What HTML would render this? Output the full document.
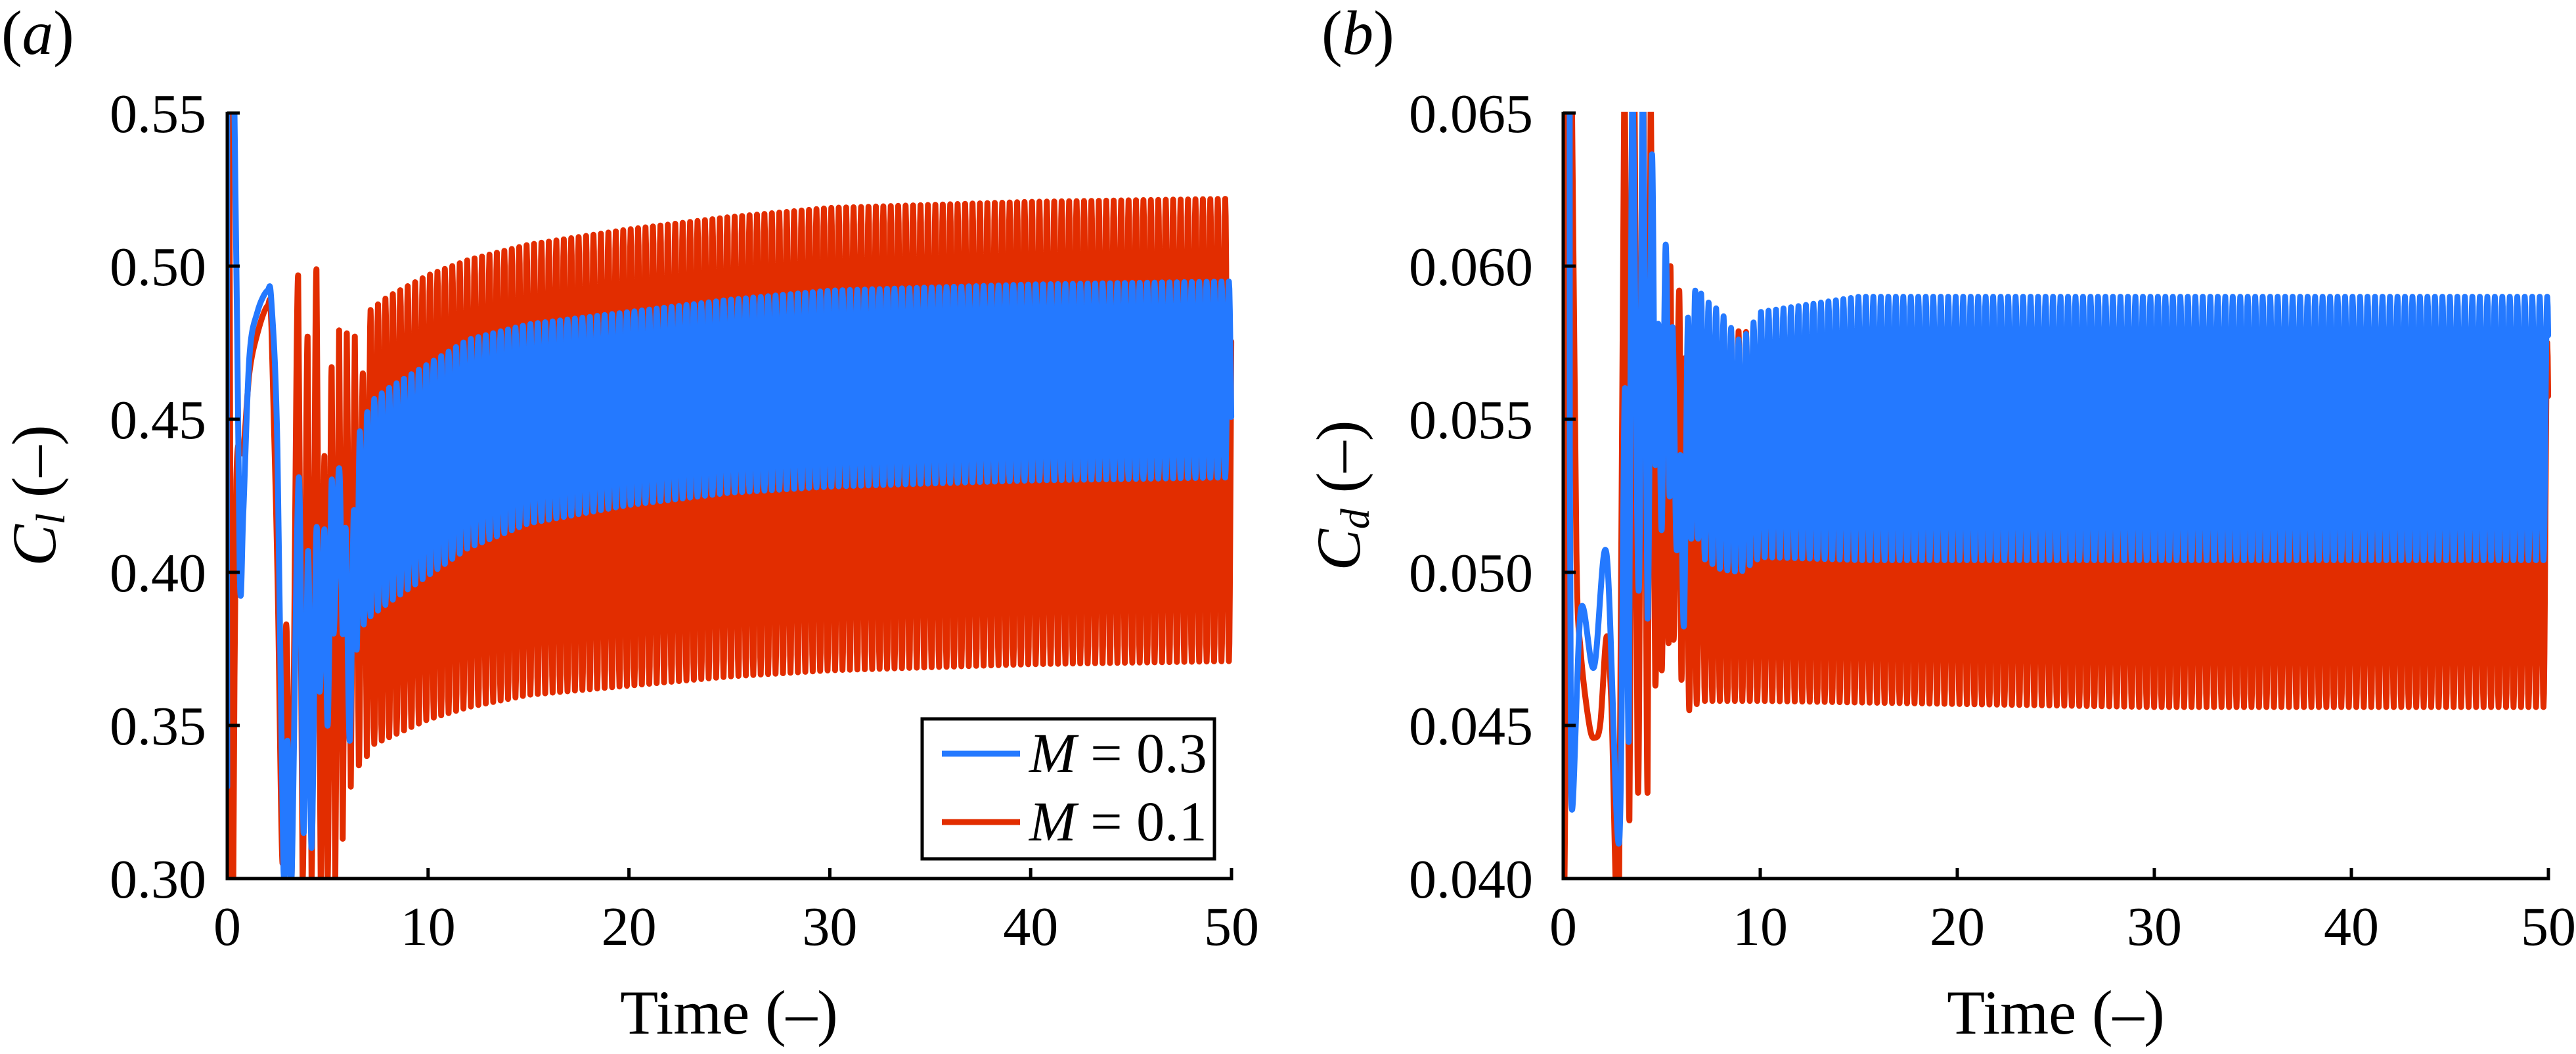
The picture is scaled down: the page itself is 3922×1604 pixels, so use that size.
<!DOCTYPE html>
<html><head><meta charset="utf-8">
<style>
html,body{margin:0;padding:0;background:#fff;}
svg{display:block;font-family:"Liberation Serif","Times New Roman",serif;}
svg text{font-family:"Liberation Serif","Times New Roman",serif;}
</style></head>
<body>
<svg id="fig" width="3922" height="1604" viewBox="0 0 3922 1604" xmlns="http://www.w3.org/2000/svg">
<defs>
<clipPath id="clipA"><rect x="346" y="170" width="1540" height="1169"/></clipPath>
<clipPath id="clipB"><rect x="2380" y="170" width="1510" height="1169"/></clipPath>
</defs>
<g id="panelA">
<text x="2" y="82" font-size="95">(<tspan font-style="italic">a</tspan>)</text>
<g id="seriesA" clip-path="url(#clipA)"></g>
<g id="axesA"></g>
<text x="1110" y="1573" font-size="95" text-anchor="middle">Time (–)</text>
<text transform="translate(84,754) rotate(-90)" font-size="95" text-anchor="middle"><tspan font-style="italic">C</tspan><tspan font-style="italic" font-size="62" dy="14">l</tspan><tspan dy="-14"> (–)</tspan></text>
<g>
<rect x="1404" y="1094" width="445" height="213" fill="#fff" stroke="#000" stroke-width="5"/>
<line x1="1434" y1="1147" x2="1553" y2="1147" stroke="#2479ff" stroke-width="9"/>
<text x="1567" y="1175" font-size="86"><tspan font-style="italic">M</tspan> = 0.3</text>
<line x1="1434" y1="1251" x2="1553" y2="1251" stroke="#e22d00" stroke-width="9"/>
<text x="1567" y="1279" font-size="86"><tspan font-style="italic">M</tspan> = 0.1</text>
</g>
</g>
<g id="panelB">
<text x="2012" y="82" font-size="95">(<tspan font-style="italic">b</tspan>)</text>
<g id="seriesB" clip-path="url(#clipB)"></g>
<g id="axesB"></g>
<text x="3130" y="1573" font-size="95" text-anchor="middle">Time (–)</text>
<text transform="translate(2070,754) rotate(-90)" font-size="95" text-anchor="middle"><tspan font-style="italic">C</tspan><tspan font-style="italic" font-size="62" dy="14">d</tspan><tspan dy="-14"> (–)</tspan></text>
</g>
</svg>
<script>
// ---- x ticks ----
const xTicks = [0, 10, 20, 30, 40, 50];
const xTickLabels = ["0", "10", "20", "30", "40", "50"];
// ---- panel (a) Cl ----
const clTicks = [0.30, 0.35, 0.40, 0.45, 0.50, 0.55];
const clTickLabels = ["0.30", "0.35", "0.40", "0.45", "0.50", "0.55"];
const clBlueTransT = [0, 0, 0.36, 0.62, 0.8, 1.1, 1.5, 2.0, 2.2, 2.5, 2.8, 3.0, 3.2, 3.56, 3.8, 4.03, 4.2, 4.44, 4.6, 4.84, 5.0, 5.2, 5.3, 5.57, 5.75, 5.9, 6.1, 6.3, 6.45, 6.6, 6.8, 6.95];
const clBlueTransV = [0.33, 0.55, 0.55, 0.40, 0.42, 0.47, 0.485, 0.492, 0.488, 0.44, 0.303, 0.345, 0.30, 0.431, 0.315, 0.407, 0.31, 0.414, 0.361, 0.414, 0.35, 0.43, 0.38, 0.434, 0.38, 0.414, 0.345, 0.42, 0.375, 0.446, 0.383, 0.451];
const clBlueEnvT = [7, 8, 10, 12, 15, 20, 25, 30, 40, 50];
const clBlueHi = [0.455, 0.46, 0.468, 0.476, 0.481, 0.485, 0.489, 0.492, 0.494, 0.495];
const clBlueLo = [0.385, 0.390, 0.399, 0.408, 0.416, 0.422, 0.426, 0.428, 0.430, 0.431];
const clRedTransT = [0, 0, 0.1, 0.2, 0.3, 0.45, 0.8, 1.1, 1.5, 2.0, 2.2, 2.5, 2.75, 2.94, 3.2, 3.53, 3.75, 4.0, 4.2, 4.44, 4.65, 4.84, 5.0, 5.2, 5.38, 5.57, 5.75, 5.95, 6.15, 6.35, 6.55, 6.75, 6.95];
const clRedTransV = [0.30, 0.55, 0.55, 0.30, 0.30, 0.43, 0.44, 0.465, 0.478, 0.487, 0.48, 0.40, 0.305, 0.383, 0.30, 0.497, 0.30, 0.477, 0.30, 0.499, 0.30, 0.438, 0.30, 0.467, 0.30, 0.479, 0.313, 0.478, 0.33, 0.477, 0.337, 0.465, 0.34];
const clRedEnvT = [7, 8, 10, 12, 15, 20, 25, 30, 40, 50];
const clRedHi = [0.485, 0.49, 0.497, 0.502, 0.507, 0.512, 0.516, 0.519, 0.521, 0.522];
const clRedLo = [0.343, 0.346, 0.352, 0.356, 0.360, 0.363, 0.366, 0.368, 0.370, 0.371];
const clPeriod = 0.37;
// ---- panel (b) Cd ----
const cdTicks = [0.040, 0.045, 0.050, 0.055, 0.060, 0.065];
const cdTickLabels = ["0.040", "0.045", "0.050", "0.055", "0.060", "0.065"];
const cdBlueTransT = [0.3, 0.33, 0.4, 0.9, 1.56, 2.2, 2.84, 3.13, 3.33, 3.5, 3.83, 4.05, 4.28, 4.5, 4.67, 4.83, 5.0, 5.2, 5.4, 5.55, 5.75, 5.95, 6.13, 6.33, 6.5, 6.7, 6.85, 7.0];
const cdBlueTransV = [0.066, 0.065, 0.0428, 0.0488, 0.0469, 0.0506, 0.0412, 0.056, 0.0446, 0.066, 0.0494, 0.066, 0.0485, 0.0636, 0.0536, 0.0581, 0.0514, 0.0607, 0.0525, 0.058, 0.0508, 0.0538, 0.0483, 0.0583, 0.0511, 0.0592, 0.0511, 0.0591];
const cdBlueEnvT = [7, 8, 9, 10, 15, 20, 30, 40, 50];
const cdBlueHi = [0.059, 0.0585, 0.0575, 0.0585, 0.059, 0.059, 0.059, 0.059, 0.059];
const cdBlueLo = [0.0505, 0.0501, 0.0500, 0.0505, 0.0504, 0.0504, 0.0504, 0.0504, 0.0504];
const cdRedTransT = [0, 0.03, 0.1, 0.3, 0.45, 0.67, 0.89, 1.33, 1.61, 1.89, 2.2, 2.44, 2.83, 3.1, 3.36, 3.6, 3.8, 4.05, 4.28, 4.44, 4.67, 4.85, 5.0, 5.2, 5.35, 5.44, 5.6, 5.89, 6.0, 6.2, 6.4, 6.6, 6.78, 7.0];
const cdRedTransV = [0.065, 0.0426, 0.0426, 0.066, 0.065, 0.0507, 0.0474, 0.045, 0.0446, 0.0451, 0.0479, 0.0458, 0.039, 0.066, 0.0419, 0.066, 0.0428, 0.066, 0.0428, 0.066, 0.0464, 0.058, 0.0468, 0.0575, 0.0477, 0.060, 0.0478, 0.0592, 0.0465, 0.057, 0.0455, 0.0575, 0.0457, 0.058];
const cdRedEnvT = [7, 10, 20, 30, 40, 50];
const cdRedHi = [0.058, 0.0578, 0.0575, 0.0575, 0.0575, 0.0575];
const cdRedLo = [0.0458, 0.0458, 0.0457, 0.0456, 0.0456, 0.0456];
const cdPeriod = 0.38;

const NS = "http://www.w3.org/2000/svg";
const FONT = '"Liberation Serif","Times New Roman",serif';
const BLUE = "#2479ff", RED = "#e22d00";
const TOP = 172, BOT = 1337;

function xA(t) { return 346 + t * 30.58; }
function xB(t) { return 2380 + t * 30.0; }
function yA(v) { return TOP + (0.55 - v) / 0.25 * (BOT - TOP); }
function yB(v) { return TOP + (0.065 - v) / 0.025 * (BOT - TOP); }

function interp(ts, vs, t) {
  if (t <= ts[0]) return vs[0];
  for (let i = 1; i < ts.length; i++) {
    if (t <= ts[i]) { const f = (t - ts[i-1]) / (ts[i] - ts[i-1]); return vs[i-1] + f * (vs[i] - vs[i-1]); }
  }
  return vs[vs.length - 1];
}

function f1(n) { return n.toFixed(1); }

function buildPath(transT, transV, envT, hi, lo, period, startTrough, xf, yf) {
  const tp = [];
  for (let i = 0; i < transT.length; i++) tp.push([xf(transT[i]), yf(transV[i])]);
  // smooth transient (Catmull-Rom)
  let d = "M" + f1(tp[0][0]) + "," + f1(tp[0][1]);
  for (let i = 0; i < tp.length - 1; i++) {
    const p0 = tp[Math.max(0, i - 1)], p1 = tp[i], p2 = tp[i + 1], p3 = tp[Math.min(tp.length - 1, i + 2)];
    const c1x = p1[0] + (p2[0] - p0[0]) / 6, c1y = p1[1] + (p2[1] - p0[1]) / 6;
    const c2x = p2[0] - (p3[0] - p1[0]) / 6, c2y = p2[1] - (p3[1] - p1[1]) / 6;
    d += " C" + f1(c1x) + "," + f1(c1y) + " " + f1(c2x) + "," + f1(c2y) + " " + f1(p2[0]) + "," + f1(p2[1]);
  }
  const t0 = transT[transT.length - 1];
  const steps = 16;
  const off = startTrough ? Math.PI : 0;
  for (let k = 1; ; k++) {
    const t = t0 + k * period / steps;
    if (t > 50) break;
    const ph = 2 * Math.PI * (k / steps) + off;
    const s = Math.cos(ph);
    const h = interp(envT, hi, t), l = interp(envT, lo, t);
    const v = (h + l) / 2 + (h - l) / 2 * s;
    d += " L" + f1(xf(t)) + "," + f1(yf(v));
  }
  return d;
}

function drawLine(parent, d, color, name) {
  const p = document.createElementNS(NS, "path");
  p.setAttribute("d", d);
  p.setAttribute("fill", "none");
  p.setAttribute("stroke", color);
  p.setAttribute("stroke-width", "9");
  p.setAttribute("stroke-linejoin", "round");
  p.setAttribute("stroke-linecap", "round");
  
  
  parent.appendChild(p);
}

function mk(tag, attrs, parent) {
  const e = document.createElementNS(NS, tag);
  for (const k in attrs) e.setAttribute(k, attrs[k]);
  parent.appendChild(e);
  return e;
}

function drawAxes(g, xf, yf, yTicks, yLabels, x0, x1, labelRight, prefix) {
  const ax = mk("line", {x1: x0, y1: TOP - 2, x2: x0, y2: BOT + 2.5, stroke: "#000", "stroke-width": 5}, g);
  
  
  const bx = mk("line", {x1: x0 - 2.5, y1: BOT, x2: x1 + 2.5, y2: BOT, stroke: "#000", "stroke-width": 5}, g);
  
  
  for (let i = 0; i < yTicks.length; i++) {
    const y = yf(yTicks[i]);
    const tk = mk("line", {x1: x0, y1: y, x2: x0 + 19, y2: y, stroke: "#000", "stroke-width": 5}, g);
    
    
    const tx = mk("text", {x: labelRight, y: y + 29, "font-size": 84, "text-anchor": "end", "font-family": FONT}, g);
    tx.textContent = yLabels[i];
    
    
  }
  for (let i = 0; i < xTicks.length; i++) {
    const x = xf(xTicks[i]);
    const tk = mk("line", {x1: x, y1: BOT, x2: x, y2: BOT - 16, stroke: "#000", "stroke-width": 5}, g);
    
    
    const tx = mk("text", {x: x, y: 1438, "font-size": 84, "text-anchor": "middle", "font-family": FONT}, g);
    tx.textContent = xTickLabels[i];
    
    
  }
}

const sA = document.getElementById("seriesA");
drawLine(sA, buildPath(clRedTransT, clRedTransV, clRedEnvT, clRedHi, clRedLo, clPeriod, true, xA, yA), RED, "cl-line-m01");
drawLine(sA, buildPath(clBlueTransT, clBlueTransV, clBlueEnvT, clBlueHi, clBlueLo, clPeriod, false, xA, yA), BLUE, "cl-line-m03");
const sB = document.getElementById("seriesB");
drawLine(sB, buildPath(cdRedTransT, cdRedTransV, cdRedEnvT, cdRedHi, cdRedLo, cdPeriod, false, xB, yB), RED, "cd-line-m01");
drawLine(sB, buildPath(cdBlueTransT, cdBlueTransV, cdBlueEnvT, cdBlueHi, cdBlueLo, cdPeriod, false, xB, yB), BLUE, "cd-line-m03");

drawAxes(document.getElementById("axesA"), xA, yA, clTicks, clTickLabels, 346, xA(50), 314, "cl");
drawAxes(document.getElementById("axesB"), xB, yB, cdTicks, cdTickLabels, 2380, xB(50), 2334, "cd");
</script>
</body></html>
